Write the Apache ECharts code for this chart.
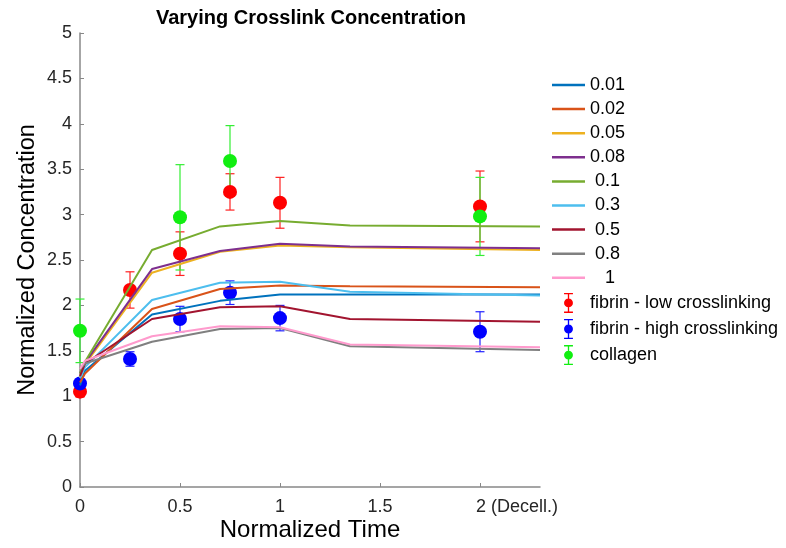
<!DOCTYPE html>
<html>
<head>
<meta charset="utf-8">
<script src="https://cdn.jsdelivr.net/npm/echarts@6/dist/echarts.min.js"></script>
<style>
  html, body { margin: 0; padding: 0; background: #fff; }
  #chart { width: 786px; height: 548px; }
</style>
</head>
<body>
<div id="chart"></div>
<script>
// model curves (one per crosslink concentration)
const lineTimes = [0, 0.025, 0.36, 0.7, 1.0, 1.35, 2.3]
const lineNames = ['0.01', '0.02', '0.05', '0.08', ' 0.1', ' 0.3', ' 0.5', ' 0.8', '   1']
const lineColors = ['#0072BD', '#D95319', '#EDB120', '#7E2F8E', '#77AC30', '#4DBEEE', '#A2142F', '#808080', '#FF9ACD']
const c001 = [1.12, 1.28, 1.90, 2.05, 2.12, 2.12, 2.12]
const c002 = [1.15, 1.25, 1.96, 2.18, 2.22, 2.21, 2.20]
const c005 = [1.20, 1.35, 2.36, 2.59, 2.66, 2.64, 2.61]
const c008 = [1.25, 1.37, 2.40, 2.60, 2.68, 2.65, 2.63]
const c01 = [1.25, 1.38, 2.61, 2.87, 2.93, 2.88, 2.87]
const c03 = [1.20, 1.32, 2.06, 2.25, 2.26, 2.15, 2.11]
const c05 = [1.22, 1.36, 1.85, 1.98, 1.99, 1.85, 1.82]
const c08 = [1.30, 1.36, 1.60, 1.74, 1.75, 1.55, 1.51]
const c1 = [1.30, 1.39, 1.66, 1.77, 1.76, 1.57, 1.54]
const lineValues = [c001, c002, c005, c008, c01, c03, c05, c08, c1]

// experimental points
const fibrinTimes = [0, 0.25, 0.5, 0.75, 1, 2]
const lowMean = [1.05, 2.17, 2.57, 3.25, 3.13, 3.09]
const lowErr = [0.06, 0.20, 0.24, 0.20, 0.28, 0.39]
const highMean = [1.14, 1.41, 1.85, 2.14, 1.86, 1.71]
const highErr = [0.05, 0.08, 0.14, 0.13, 0.14, 0.22]
const collagenTimes = [0, 0.5, 0.75, 2]
const collagenMean = [1.72, 2.97, 3.59, 2.98]
const collagenErr = [0.35, 0.58, 0.39, 0.43]

const font = 'Liberation Sans, Arial, Helvetica, sans-serif'
const lineIcon = 'path://M0,0 H34 V2.6 H0 Z'
const errIcon = 'path://M0,0 H8 V1.2 H0 Z M0,16.8 H8 V18 H0 Z M3.4,0 H4.6 V18 H3.4 Z M8,9 A4,4 0 1,1 0,9 A4,4 0 1,1 8,9 Z'

function zip( xs, ys, es ) {
  return xs.map( ( x, i ) => es ? [x, ys[i], es[i]] : [x, ys[i]] )
}

function errorBars( name, color, xs, ys, es ) {
  return {
    name : name + '-err',
    type : 'custom',
    silent : true,
    data : zip( xs, ys, es ),
    renderItem : function( params, api ) {
      const x = api.value( 0 )
      const y = api.value( 1 )
      const e = api.value( 2 )
      const top = api.coord( [x, y + e] )
      const bot = api.coord( [x, y - e] )
      const style = { stroke : color, lineWidth : 1.2 }
      return {
        type : 'group',
        children : [
          { type : 'line', shape : { x1 : top[0], y1 : top[1], x2 : bot[0], y2 : bot[1] }, style },
          { type : 'line', shape : { x1 : top[0] - 4.5, y1 : top[1], x2 : top[0] + 4.5, y2 : top[1] }, style },
          { type : 'line', shape : { x1 : bot[0] - 4.5, y1 : bot[1], x2 : bot[0] + 4.5, y2 : bot[1] }, style }
        ]
      }
    }
  }
}

function points( name, color, xs, ys ) {
  return {
    name,
    type : 'scatter',
    symbol : 'circle',
    symbolSize : 14,
    itemStyle : { color, opacity : 1 },
    data : zip( xs, ys )
  }
}

const series = lineValues.map( ( vals, i ) => ( {
  name : lineNames[i],
  type : 'line',
  symbol : 'none',
  color : lineColors[i],
  lineStyle : { width : 2, color : lineColors[i] },
  data : zip( lineTimes, vals )
} ) )

series.push( errorBars( 'fibrin - low crosslinking', '#FF2020', fibrinTimes, lowMean, lowErr ) )
series.push( points( 'fibrin - low crosslinking', '#FF0000', fibrinTimes, lowMean ) )
series.push( errorBars( 'fibrin - high crosslinking', '#2020FF', fibrinTimes, highMean, highErr ) )
series.push( points( 'fibrin - high crosslinking', '#0000FF', fibrinTimes, highMean ) )
series.push( errorBars( 'collagen', '#33EE33', collagenTimes, collagenMean, collagenErr ) )
series.push( points( 'collagen', '#11EE11', collagenTimes, collagenMean ) )

const legendData = lineNames.map( n => ( { name : n, icon : lineIcon } ) ).concat( [
  { name : 'fibrin - low crosslinking', icon : errIcon },
  { name : 'fibrin - high crosslinking', icon : errIcon },
  { name : 'collagen', icon : errIcon }
] )

const chart = echarts.init( document.getElementById( 'chart' ) )
chart.setOption( {
  animation : false,
  backgroundColor : '#fff',
  textStyle : { fontFamily : font },
  title : {
    text : 'Varying Crosslink Concentration',
    left : 306,
    top : 3,
    textAlign : 'center',
    textStyle : { fontFamily : font, fontSize : 20, fontWeight : 'bold', color : '#000' }
  },
  grid : {
    left : 80,
    right : 246,
    top : 33,
    bottom : 61,
    containLabel : false,
    outerBoundsMode : 'none'
  },
  legend : {
    orient : 'vertical',
    left : 547,
    top : 71,
    itemWidth : 33,
    itemHeight : 20,
    itemGap : 6.1,
    data : legendData,
    textStyle : { fontFamily : font, fontSize : 18, color : '#000' }
  },
  xAxis : {
    type : 'value',
    min : 0,
    max : 2.3,
    interval : 0.5,
    name : 'Normalized Time',
    nameLocation : 'middle',
    nameGap : 31,
    nameMoveOverlap : false,
    nameTextStyle : { fontFamily : font, fontSize : 24, color : '#000' },
    axisLine : { lineStyle : { color : '#888', width : 1.5 } },
    axisTick : { inside : true, length : 4, lineStyle : { color : '#888' } },
    splitLine : { show : false },
    axisLabel : {
      showMaxLabel : false,
      margin : 11,
      fontSize : 18,
      color : '#262626',
      formatter : v => v === 2 ? '{d|2 (Decell.)}' : String( v ),
      rich : {
        d : { fontFamily : font, fontSize : 18, color : '#262626', padding : [0, 0, 0, 74] }
      }
    }
  },
  yAxis : {
    type : 'value',
    min : 0,
    max : 5,
    interval : 0.5,
    name : 'Normalized Concentration',
    nameLocation : 'middle',
    nameGap : 40,
    nameMoveOverlap : false,
    nameTextStyle : { fontFamily : font, fontSize : 23.5, color : '#000' },
    axisLine : { show : true, lineStyle : { color : '#888', width : 1.5 } },
    axisTick : { show : true, inside : true, length : 4, lineStyle : { color : '#888' } },
    splitLine : { show : false },
    axisLabel : { margin : 8, fontSize : 18, color : '#262626' }
  },
  series
} )
</script>
</body>
</html>
